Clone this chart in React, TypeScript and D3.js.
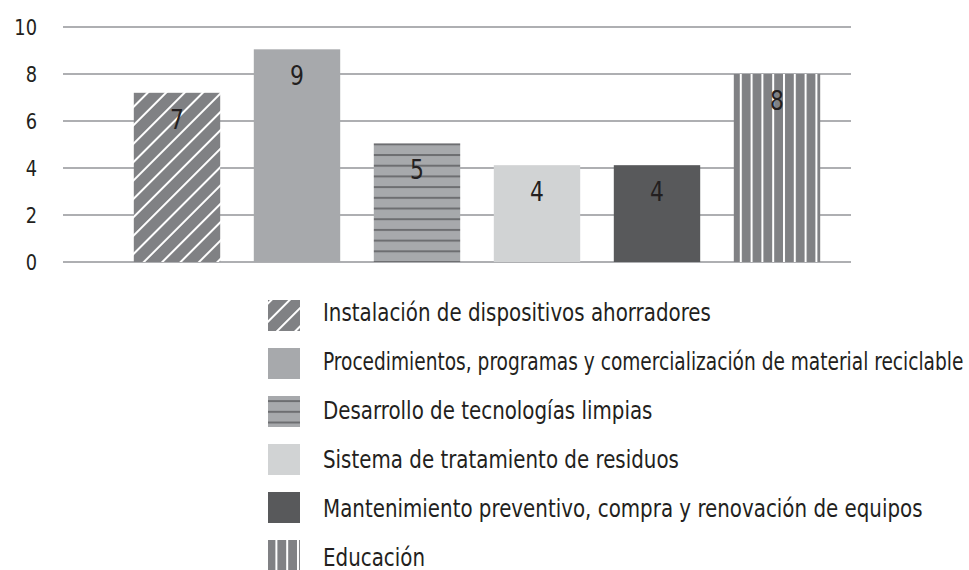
import * as d3 from 'd3'
import { useEffect, useRef } from 'react'

const categories = [
  'Instalación de dispositivos ahorradores',
  'Procedimientos, programas y comercialización de material reciclable',
  'Desarrollo de tecnologías limpias',
  'Sistema de tratamiento de residuos',
  'Mantenimiento preventivo, compra y renovación de equipos',
  'Educación',
]
const values = [7.2, 9.05, 5.05, 4.12, 4.12, 8]
const valueLabels = ['7', '9', '5', '4', '4', '8']
const fills = ['url(#diag)', '#a7a9ac', 'url(#hlines)', '#d1d3d4', '#58595b', 'url(#vlines)']
const yTicks = [0, 2, 4, 6, 8, 10]

const FONT = '"DejaVu Sans Condensed", "DejaVu Sans", sans-serif'
const INK = '#231f20'
const SQUEEZE = 0.9 // reference uses a condensed face

export default function App() {
  const svgRef = useRef<SVGSVGElement>(null)

  useEffect(() => {
    const w = 969
    const h = 570
    const svg = d3.select(svgRef.current)
      .attr('width', w)
      .attr('height', h)
    svg.selectAll('*').remove()

    const yScale = d3.scaleLinear().domain([0, 10]).range([262, 27])
    const xScale = d3.scaleBand<string>()
      .domain(categories)
      .range([117, 837])
      .paddingInner(0.28)
      .paddingOuter(0.14)

    const defs = svg.append('defs')

    // diagonal white stripes
    const diag = defs.append('pattern')
      .attr('id', 'diag')
      .attr('patternUnits', 'userSpaceOnUse')
      .attr('width', 13)
      .attr('height', 13)
      .attr('patternTransform', 'rotate(45)')
    diag.append('rect').attr('width', 13).attr('height', 13).attr('fill', '#808184')
    diag.append('line').attr('x1', 1).attr('x2', 1).attr('y1', 0).attr('y2', 13)
      .attr('stroke', '#fff').attr('stroke-width', 2)

    // horizontal dark lines
    const hl = defs.append('pattern')
      .attr('id', 'hlines')
      .attr('patternUnits', 'userSpaceOnUse')
      .attr('y', yScale(values[2]))
      .attr('width', 10)
      .attr('height', 10.7)
    hl.append('rect').attr('width', 10).attr('height', 10.7).attr('fill', '#a7a9ac')
    hl.append('rect').attr('y', 0).attr('width', 10).attr('height', 2).attr('fill', '#6d6e71')

    // vertical white lines
    const vl = defs.append('pattern')
      .attr('id', 'vlines')
      .attr('patternUnits', 'userSpaceOnUse')
      .attr('x', xScale(categories[5])! + 6)
      .attr('width', 10.8)
      .attr('height', 10)
    vl.append('rect').attr('width', 10.8).attr('height', 10).attr('fill', '#808184')
    vl.append('rect').attr('x', 0).attr('width', 2).attr('height', 10).attr('fill', '#fff')

    // gridlines
    svg.append('g')
      .selectAll('line')
      .data(yTicks)
      .join('line')
      .attr('x1', 63)
      .attr('x2', 851)
      .attr('y1', d => yScale(d))
      .attr('y2', d => yScale(d))
      .attr('stroke', '#939598')
      .attr('stroke-width', 1.5)

    // y labels
    svg.append('g')
      .selectAll('text')
      .data(yTicks)
      .join('text')
      .attr('transform', d => `translate(37, ${yScale(d) + 7.5}) scale(${SQUEEZE}, 1)`)
      .attr('text-anchor', 'end')
      .attr('font-family', FONT)
      .attr('font-size', 22)
      .attr('fill', INK)
      .text(d => d)

    // bars
    svg.append('g')
      .selectAll('rect')
      .data(values)
      .join('rect')
      .attr('x', (d, i) => xScale(categories[i])!)
      .attr('width', xScale.bandwidth())
      .attr('y', d => yScale(d))
      .attr('height', d => yScale(0) - yScale(d))
      .attr('fill', (d, i) => fills[i])

    // value labels
    svg.append('g')
      .selectAll('text')
      .data(values)
      .join('text')
      .attr('transform', (d, i) =>
        `translate(${xScale(categories[i])! + xScale.bandwidth() / 2}, ${yScale(d) + 36}) scale(${SQUEEZE}, 1)`)
      .attr('text-anchor', 'middle')
      .attr('font-family', FONT)
      .attr('font-size', 27)
      .attr('fill', INK)
      .text((d, i) => valueLabels[i])

    // legend
    const legX = 323
    const room = w - legX - 5
    const swatchY = d3.scalePoint<string>().domain(categories).range([300, 540])
    const textY = d3.scalePoint<string>().domain(categories).range([321, 566])
    const leg = svg.append('g')
    leg.selectAll('rect')
      .data(categories)
      .join('rect')
      .attr('x', 268)
      .attr('y', d => swatchY(d)!)
      .attr('width', 32)
      .attr('height', 31)
      .attr('fill', (d, i) => fills[i])
    leg.selectAll('text')
      .data(categories)
      .join('text')
      .attr('font-family', FONT)
      .attr('font-size', 24)
      .attr('fill', INK)
      .text(d => d)
      .each(function (d) {
        const t = this as SVGTextElement
        // squeeze long labels a bit more so they stay on the page
        const s = Math.min(0.92, room / t.getComputedTextLength())
        t.setAttribute('transform', `translate(${legX}, ${textY(d)}) scale(${s}, 1)`)
      })
  }, [])

  return (
    <svg ref={svgRef} style={{ position: 'absolute', left: 0, top: 0, background: '#fff' }} />
  )
}
